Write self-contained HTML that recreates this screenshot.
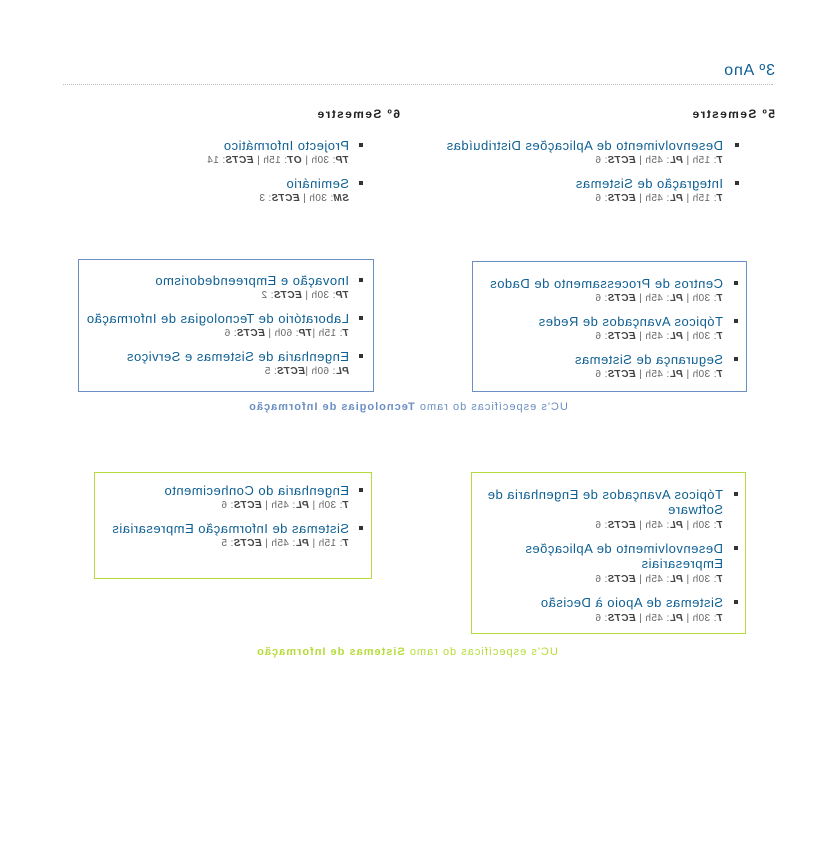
<!DOCTYPE html>
<html><head><meta charset="utf-8"><style>
html,body{margin:0;padding:0;background:#fff;}
#w{position:relative;width:836px;height:858px;transform:scaleX(-1);transform-origin:418px 0;font-family:"Liberation Sans",sans-serif;overflow:hidden}
.a{position:absolute;white-space:nowrap}
.t{position:absolute;font-size:13px;line-height:15px;color:#0e5f93;letter-spacing:0.5px}
.s{position:absolute;font-size:10px;line-height:12px;color:#666;white-space:nowrap;letter-spacing:0.4px;margin-top:2px}
.s b{color:#444}
.b{position:absolute;width:4px;height:4px;background:#333}
.box{position:absolute;box-sizing:border-box}
.h{font-size:12px;font-weight:bold;color:#222;letter-spacing:1.4px}
.c{font-size:11px;letter-spacing:1px}
</style></head><body><div id="w">
<div class="a" style="left:61px;top:62px;font-size:16px;color:#0e5f93;letter-spacing:0.8px">3º Ano</div>
<div class="a" style="left:63px;top:84px;width:710px;border-top:1px dotted #bbb"></div>
<div class="a h" style="left:61px;top:107px">5º Semestre</div>
<div class="a h" style="left:436px;top:107px">6º Semestre</div>

<div class="b" style="left:97px;top:143px"></div><div class="t a" style="left:113px;top:138px">Desenvolvimento de Aplicações Distribuídas</div><div class="s" style="left:113px;top:153px"><b><i>T</i></b>: 15h | <b><i>PL</i></b>: 45h | <b><i>ECTS</i></b>: 6</div>
<div class="b" style="left:97px;top:181px"></div><div class="t a" style="left:113px;top:176px">Integração de Sistemas</div><div class="s" style="left:113px;top:191px"><b><i>T</i></b>: 15h | <b><i>PL</i></b>: 45h | <b><i>ECTS</i></b>: 6</div>

<div class="b" style="left:473px;top:143px"></div><div class="t a" style="left:487px;top:138px">Projecto Informático</div><div class="s" style="left:487px;top:153px"><b><i>TP</i></b>: 30h | <b><i>OT</i></b>: 15h | <b><i>ECTS</i></b>: 14</div>
<div class="b" style="left:473px;top:181px"></div><div class="t a" style="left:487px;top:176px">Seminário</div><div class="s" style="left:487px;top:191px"><b><i>SM</i></b>: 30h | <b><i>ECTS</i></b>: 3</div>

<div class="box" style="left:89px;top:261px;width:275px;height:131px;border:1px solid #6b8fc2"></div>
<div class="b" style="left:98px;top:281px"></div><div class="t a" style="left:113px;top:276px">Centros de Processamento de Dados</div><div class="s" style="left:113px;top:291px"><b><i>T</i></b>: 30h | <b><i>PL</i></b>: 45h | <b><i>ECTS</i></b>: 6</div>
<div class="b" style="left:98px;top:319px"></div><div class="t a" style="left:113px;top:314px">Tópicos Avançados de Redes</div><div class="s" style="left:113px;top:329px"><b><i>T</i></b>: 30h | <b><i>PL</i></b>: 45h | <b><i>ECTS</i></b>: 6</div>
<div class="b" style="left:98px;top:357px"></div><div class="t a" style="left:113px;top:352px">Segurança de Sistemas</div><div class="s" style="left:113px;top:367px"><b><i>T</i></b>: 30h | <b><i>PL</i></b>: 45h | <b><i>ECTS</i></b>: 6</div>

<div class="box" style="left:462px;top:259px;width:296px;height:133px;border:1px solid #6b8fc2"></div>
<div class="b" style="left:473px;top:278px"></div><div class="t a" style="left:487px;top:273px">Inovação e Empreendedorismo</div><div class="s" style="left:487px;top:288px"><b><i>TP</i></b>: 30h | <b><i>ECTS</i></b>: 2</div>
<div class="b" style="left:473px;top:316px"></div><div class="t a" style="left:487px;top:311px">Laboratório de Tecnologias de Informação</div><div class="s" style="left:487px;top:326px"><b><i>T</i></b>: 15h |<b><i>TP</i></b>: 60h | <b><i>ECTS</i></b>: 6</div>
<div class="b" style="left:473px;top:354px"></div><div class="t a" style="left:487px;top:349px">Engenharia de Sistemas e Serviços</div><div class="s" style="left:487px;top:364px"><b><i>PL</i></b>: 60h |<b><i>ECTS</i></b>: 5</div>

<div class="a c" style="left:168px;top:401px;width:520px;text-align:center;color:#6b8fc2">UC's específicas do ramo <b>Tecnologias de Informação</b></div>

<div class="box" style="left:90px;top:472px;width:275px;height:162px;border:1px solid #b5dc3a"></div>
<div class="b" style="left:98px;top:492px"></div><div class="t" style="left:113px;top:487px;width:248px">Tópicos Avançados de Engenharia de Software</div><div class="s" style="left:113px;top:518px"><b><i>T</i></b>: 30h | <b><i>PL</i></b>: 45h | <b><i>ECTS</i></b>: 6</div>
<div class="b" style="left:98px;top:546px"></div><div class="t" style="left:113px;top:541px;width:215px">Desenvolvimento de Aplicações Empresariais</div><div class="s" style="left:113px;top:572px"><b><i>T</i></b>: 30h | <b><i>PL</i></b>: 45h | <b><i>ECTS</i></b>: 6</div>
<div class="b" style="left:98px;top:600px"></div><div class="t a" style="left:113px;top:595px">Sistemas de Apoio à Decisão</div><div class="s" style="left:113px;top:611px"><b><i>T</i></b>: 30h | <b><i>PL</i></b>: 45h | <b><i>ECTS</i></b>: 6</div>

<div class="box" style="left:464px;top:472px;width:278px;height:107px;border:1px solid #b5dc3a"></div>
<div class="b" style="left:473px;top:488px"></div><div class="t a" style="left:487px;top:483px">Engenharia do Conhecimento</div><div class="s" style="left:487px;top:498px"><b><i>T</i></b>: 30h | <b><i>PL</i></b>: 45h | <b><i>ECTS</i></b>: 6</div>
<div class="b" style="left:473px;top:526px"></div><div class="t a" style="left:487px;top:521px">Sistemas de Informação Empresariais</div><div class="s" style="left:487px;top:536px"><b><i>T</i></b>: 15h | <b><i>PL</i></b>: 45h | <b><i>ECTS</i></b>: 5</div>

<div class="a c" style="left:169px;top:646px;width:520px;text-align:center;color:#b5dc3a">UC's específicas do ramo <b>Sistemas de Informação</b></div>
</div></body></html>
